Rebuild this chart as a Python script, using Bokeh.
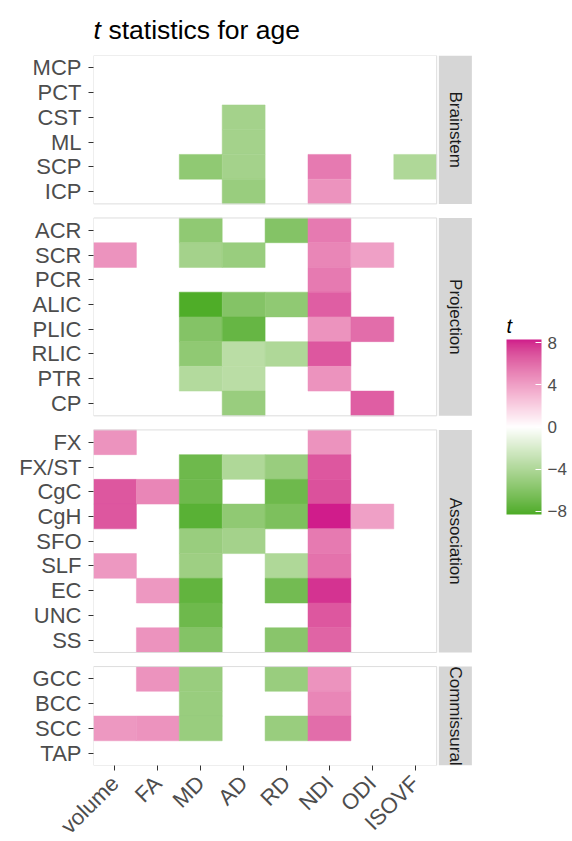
import numpy as np
from math import pi
from bokeh.plotting import figure
from bokeh.layouts import column
from bokeh.models import (ColumnDataSource, FactorRange, Range1d, LinearColorMapper,
                          ColorBar, FixedTicker, Label)
from bokeh.transform import transform
from bokeh.core.properties import value
from bokeh.embed import file_html
from bokeh.resources import INLINE

N = None
metrics = ["volume", "FA", "MD", "AD", "RD", "NDI", "ODI", "ISOVF"]
facets = ["Brainstem", "Projection", "Association", "Commissural"]

brainstem_tracts = ["MCP", "PCT", "CST", "ML", "SCP", "ICP"]
brainstem_t = [
    [N, N, N, N, N, N, N, N],
    [N, N, N, N, N, N, N, N],
    [N, N, N, -4.5, N, N, N, N],
    [N, N, N, -4.5, N, N, N, N],
    [N, N, -5.5, -4.5, N, 5.5, N, -4.0],
    [N, N, N, -5.0, N, 4.5, N, N],
]
projection_tracts = ["ACR", "SCR", "PCR", "ALIC", "PLIC", "RLIC", "PTR", "CP"]
projection_t = [
    [N, N, -5.5, N, -6.0, 5.5, N, N],
    [4.5, N, -4.5, -5.0, N, 5.0, 4.0, N],
    [N, N, N, N, N, 5.5, N, N],
    [N, N, -8.2, -6.0, -5.5, 6.5, N, N],
    [N, N, -6.0, -7.3, N, 4.5, 6.0, N],
    [N, N, -5.5, -3.5, -4.0, 6.8, N, N],
    [N, N, -3.8, -3.5, N, 4.5, N, N],
    [N, N, N, -5.0, N, N, 6.5, N],
]
association_tracts = ["FX", "FX/ST", "CgC", "CgH", "SFO", "SLF", "EC", "UNC", "SS"]
association_t = [
    [4.5, N, N, N, N, 4.5, N, N],
    [N, N, -7.0, -4.0, -5.0, 6.8, N, N],
    [6.8, 5.0, -7.0, N, -7.0, 7.0, N, N],
    [6.8, N, -7.8, -5.5, -6.3, 8.3, 4.0, N],
    [N, N, -5.0, -4.5, N, 5.5, N, N],
    [4.3, N, -4.8, N, -4.0, 5.8, N, N],
    [N, 4.3, -7.5, N, -6.8, 7.8, N, N],
    [N, N, -7.0, N, N, 6.8, N, N],
    [N, 4.5, -6.0, N, -5.8, 6.3, N, N],
]
commissural_tracts = ["GCC", "BCC", "SCC", "TAP"]
commissural_t = [
    [N, 4.5, -5.0, N, -5.0, 4.5, N, N],
    [N, N, -5.0, N, N, 5.0, N, N],
    [4.3, 4.5, -5.0, N, -5.0, 6.0, N, N],
    [N, N, N, N, N, N, N, N],
]
legend_ticks = [-8, -4, 0, 4, 8]
t_limit = 8.3

groups = [
    (facets[0], brainstem_tracts, brainstem_t),
    (facets[1], projection_tracts, projection_t),
    (facets[2], association_tracts, association_t),
    (facets[3], commissural_tracts, commissural_t),
]

# ---------- Lab-space gradient (green - white - magenta) ----------
def _hex2rgb(h):
    h = h.lstrip("#")
    return np.array([int(h[i:i + 2], 16) / 255.0 for i in (0, 2, 4)])

_M = np.array([[0.4124564, 0.3575761, 0.1804375],
               [0.2126729, 0.7151522, 0.0721750],
               [0.0193339, 0.1191920, 0.9503041]])
_Mi = np.linalg.inv(_M)
_WP = np.array([0.95047, 1.0, 1.08883])

def _rgb2lab(rgb):
    lin = np.where(rgb <= 0.04045, rgb / 12.92, ((rgb + 0.055) / 1.055) ** 2.4)
    xyz = _M @ lin / _WP
    f = np.where(xyz > (6 / 29) ** 3, np.cbrt(xyz), xyz / (3 * (6 / 29) ** 2) + 4 / 29)
    return np.array([116 * f[1] - 16, 500 * (f[0] - f[1]), 200 * (f[1] - f[2])])

def _lab2hex(lab):
    fy = (lab[0] + 16) / 116
    fx = fy + lab[1] / 500
    fz = fy - lab[2] / 200
    f = np.array([fx, fy, fz])
    xyz = np.where(f > 6 / 29, f ** 3, 3 * (6 / 29) ** 2 * (f - 4 / 29)) * _WP
    lin = np.clip(_Mi @ xyz, 0, 1)
    rgb = np.where(lin <= 0.0031308, 12.92 * lin, 1.055 * lin ** (1 / 2.4) - 0.055)
    rgb = np.clip(np.round(rgb * 255), 0, 255).astype(int)
    return "#%02x%02x%02x" % tuple(rgb)

low_lab = _rgb2lab(_hex2rgb("#4DAC26"))
mid_lab = _rgb2lab(_hex2rgb("#FFFFFF"))
high_lab = _rgb2lab(_hex2rgb("#D01C8B"))
palette = []
for v in np.linspace(-1, 1, 256):
    if v < 0:
        lab = low_lab + (mid_lab - low_lab) * (v + 1)
    else:
        lab = mid_lab + (high_lab - mid_lab) * v
    palette.append(_lab2hex(lab))

mapper = LinearColorMapper(palette=palette, low=-t_limit, high=t_limit)

# ---------- data ----------
xs, ys, ts = [], [], []
for facet, tracts, tvals in groups:
    for tract, row in zip(tracts, tvals):
        for mi, t in enumerate(row):
            if t is not None:
                xs.append(mi)
                ys.append((facet, tract))
                ts.append(t)
src = ColumnDataSource(dict(x=xs, y=ys, t=ts))

factors = []
for facet, tracts, _ in reversed(groups):
    for tract in reversed(tracts):
        factors.append((facet, tract))

FONT = "Liberation Sans"
LEFT = 93
px_per_col = 42.9
frame_w = 477
frame_h = 710
TOP_H = 52
y_range = FactorRange(factors=factors, group_padding=0.57, range_padding=0)
x_range = Range1d(-0.5, -0.5 + frame_w / px_per_col)

# ---------- title strip (frame aligned with main panel) ----------
tp = figure(frame_width=frame_w, frame_height=TOP_H, x_range=Range1d(0, frame_w),
            y_range=Range1d(0, TOP_H), min_border_left=LEFT, min_border_right=0,
            min_border_top=0, min_border_bottom=0, output_backend="svg",
            toolbar_location=None, tools="")
tp.axis.visible = False
tp.grid.visible = False
tp.outline_line_color = None
tp.text(x=[0], y=[23], text=["t"], text_font=value(FONT), text_font_style="italic",
        text_font_size="26.5px", text_baseline="alphabetic", text_color="black")
tp.text(x=[15], y=[23], text=["statistics for age"], text_font=value(FONT),
        text_font_size="26.5px", text_baseline="alphabetic", text_color="black")

# ---------- main panel ----------
p = figure(x_range=x_range, y_range=y_range, frame_width=frame_w, frame_height=frame_h,
           min_border_left=LEFT, min_border_right=0, min_border_top=3, min_border_bottom=10,
           output_backend="svg", toolbar_location=None, tools="")
p.outline_line_color = None
p.background_fill_color = "white"
p.xgrid.visible = False
p.ygrid.visible = False

p.rect(x="x", y="y", width=1, height=1, source=src,
       fill_color=transform("t", mapper), line_color=transform("t", mapper), line_width=0.5)

# panel borders and facet strips
strip_x = len(metrics) - 0.5 + 0.05 + 0.385
fsrc = ColumnDataSource(dict(
    facet=[g[0] for g in groups],
    n=[len(g[1]) for g in groups],
    cx=[(len(metrics) - 1) / 2.0] * len(groups),
    sx=[strip_x] * len(groups),
))
p.rect(x="cx", y="facet", width=len(metrics), height="n", source=fsrc,
       fill_color=None, line_color="#DDDDDD", line_width=1)
p.rect(x="sx", y="facet", width=0.77, height="n", source=fsrc,
       fill_color="#D6D6D6", line_color=None)
p.text(x="sx", y="facet", text="facet", source=fsrc, angle=-pi / 2,
       text_align="center", text_baseline="middle", text_font=value(FONT),
       text_font_size="17px", text_color="#1A1A1A")

# axes
p.axis.axis_line_color = None
p.axis.major_tick_out = 5
p.axis.major_tick_in = 0
p.axis.major_tick_line_color = "#333333"
p.axis.minor_tick_line_color = None
p.axis.major_label_text_font = FONT
p.axis.major_label_text_font_size = "22px"
p.axis.major_label_text_color = "#4D4D4D"
p.yaxis.major_label_standoff = 7
p.yaxis.group_text_font_size = "0px"
p.yaxis.group_text_color = None
p.yaxis.separator_line_color = None
p.xaxis.ticker = FixedTicker(ticks=list(range(len(metrics))), minor_ticks=[])
p.xaxis.major_label_overrides = {i: m for i, m in enumerate(metrics)}
p.xaxis.major_label_orientation = pi / 4
p.xaxis.major_label_standoff = 9

# colour bar (title drawn as a label inside the frame)
cb_left = 506 - LEFT
cb = ColorBar(color_mapper=mapper, location=(cb_left, 251), width=35, height=175, padding=0,
              ticker=FixedTicker(ticks=legend_ticks, minor_ticks=[]),
              major_label_text_font=FONT, major_label_text_font_size="17px",
              major_label_text_color="#4D4D4D", label_standoff=6,
              major_tick_line_color="white", major_tick_in=6, major_tick_out=0,
              bar_line_color=None, background_fill_alpha=0, border_line_color=None)
p.add_layout(cb)
p.add_layout(Label(x=cb_left, y=frame_h - (325 - 55), x_units="screen", y_units="screen",
                   text="t", text_font=FONT, text_font_style="italic",
                   text_font_size="20px", text_baseline="alphabetic", text_color="black"))

open("out.html", "w").write(file_html(column(tp, p, spacing=0), INLINE))
